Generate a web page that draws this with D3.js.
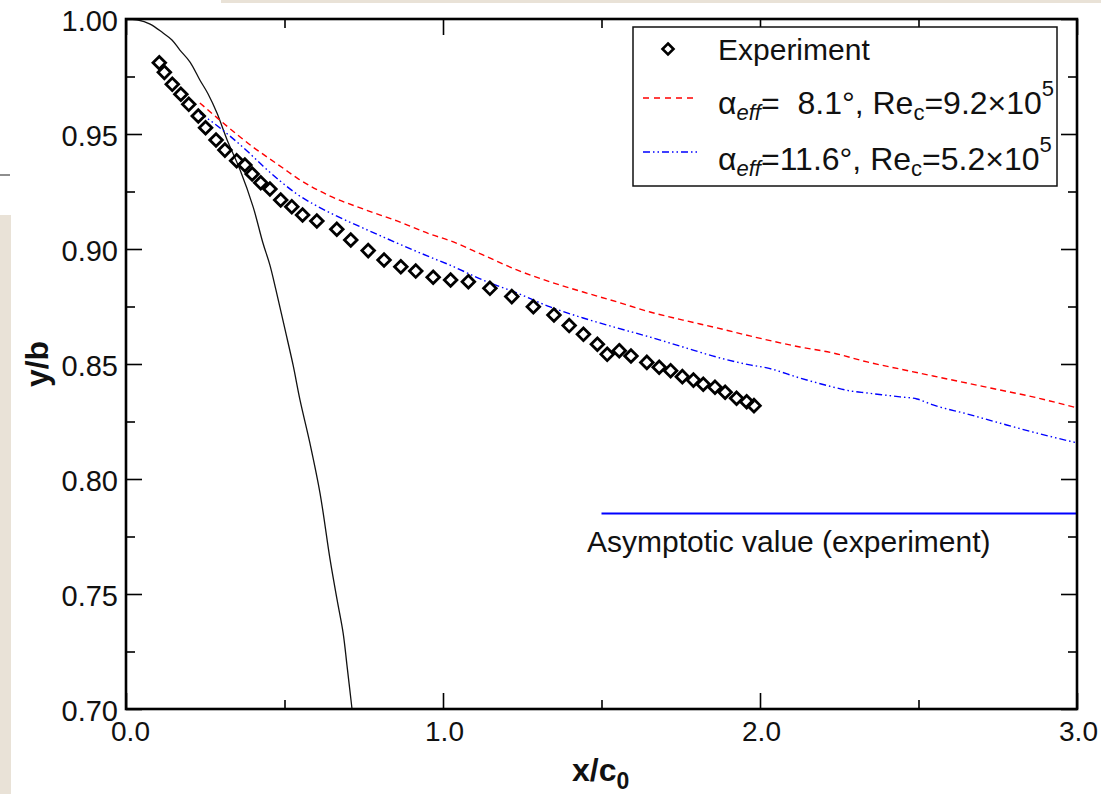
<!DOCTYPE html>
<html>
<head>
<meta charset="utf-8">
<script src="https://cdn.jsdelivr.net/npm/d3@7"></script>
<style>
  html, body { margin: 0; padding: 0; background: #fff; }
  svg { display: block; font-family: "Liberation Sans", Arial, Helvetica, sans-serif; }
  text { white-space: pre; }
</style>
</head>
<body>
<svg id="chart" width="1112" height="794"></svg>
<script>
// ---------------- data ----------------
const expX = [0.105,0.121,0.146,0.173,0.198,0.228,0.251,0.284,0.312,0.349,0.375,0.398,0.425,0.454,0.488,0.523,0.557,0.602,0.665,0.709,0.764,0.814,0.867,0.914,0.969,1.024,1.080,1.148,1.217,1.285,1.350,1.398,1.443,1.487,1.518,1.556,1.593,1.643,1.682,1.718,1.755,1.790,1.821,1.858,1.890,1.926,1.958,1.981];
const expY = [0.9810,0.9768,0.9716,0.9673,0.9629,0.9578,0.9527,0.9474,0.9430,0.9384,0.9365,0.9326,0.9288,0.9261,0.9213,0.9184,0.9148,0.9122,0.9086,0.9039,0.8993,0.8952,0.8923,0.8904,0.8877,0.8865,0.8858,0.8829,0.8793,0.8749,0.8713,0.8667,0.8629,0.8586,0.8542,0.8558,0.8535,0.8507,0.8486,0.8471,0.8445,0.8430,0.8412,0.8399,0.8377,0.8351,0.8336,0.8319];

const solidX = [0,0.035,0.076,0.117,0.145,0.170,0.202,0.233,0.259,0.287,0.319,0.360,0.401,0.432,0.454,0.473,0.502,0.527,0.549,0.580,0.612,0.644,0.666,0.685,0.697,0.713];
const solidY = [1.0000,0.9996,0.9978,0.9939,0.9909,0.9865,0.9813,0.9735,0.9674,0.9591,0.9474,0.9343,0.9183,0.9026,0.8930,0.8822,0.8648,0.8496,0.8343,0.8157,0.7939,0.7648,0.7474,0.7330,0.7191,0.7000];

const redX = [0.233,0.281,0.322,0.360,0.401,0.445,0.495,0.539,0.644,0.748,0.855,0.959,1.022,1.126,1.233,1.338,1.442,1.549,1.653,1.757,1.864,1.968,2.126,2.230,2.338,2.442,2.546,2.653,2.757,2.861,3.000];
const redY = [0.9635,0.9578,0.9530,0.9487,0.9443,0.9400,0.9352,0.9309,0.9230,0.9174,0.9122,0.9065,0.9036,0.8974,0.8909,0.8857,0.8813,0.8770,0.8726,0.8691,0.8657,0.8622,0.8574,0.8548,0.8509,0.8478,0.8448,0.8417,0.8387,0.8357,0.8309];

const blueX = [0.233,0.281,0.328,0.382,0.432,0.486,0.539,0.590,0.644,0.748,0.855,0.959,1.022,1.126,1.233,1.338,1.442,1.549,1.653,1.757,1.864,1.968,2.022,2.126,2.230,2.284,2.338,2.442,2.495,2.546,2.653,2.757,2.861,3.000];
const blueY = [0.9591,0.9543,0.9491,0.9426,0.9361,0.9296,0.9239,0.9196,0.9157,0.9091,0.9026,0.8965,0.8930,0.8865,0.8809,0.8748,0.8700,0.8657,0.8617,0.8574,0.8530,0.8496,0.8483,0.8439,0.8400,0.8383,0.8374,0.8357,0.8348,0.8322,0.8283,0.8243,0.8204,0.8157];

const asymX = [1.5, 3.0];
const asymY = [0.785, 0.785];

const xMajor = [0, 1, 2, 3];
const xMinor = [0.5, 1.5, 2.5];
const yMajor = [0.70, 0.75, 0.80, 0.85, 0.90, 0.95, 1.00];
const yMinor = [0.725, 0.775, 0.825, 0.875, 0.925, 0.975];

const legendLabels = ["Experiment", "8.1°", "11.6°"];

// ---------------- setup ----------------
const svg = d3.select("#chart");
const L = 126, R = 1077, T = 19, B = 709;
const x = d3.scaleLinear().domain([0, 3]).range([L, R]);
const y = d3.scaleLinear().domain([0.70, 1.00]).range([B, T]);

// slide background remnants
svg.append("rect").attr("x", 0).attr("y", 215).attr("width", 11).attr("height", 579).attr("fill", "#e9e2d7");
svg.append("rect").attr("x", 221).attr("y", 0).attr("width", 880).attr("height", 3).attr("fill", "#e9e2d7");
svg.append("line").attr("x1", 0).attr("x2", 10).attr("y1", 175).attr("y2", 175).attr("stroke", "#444").attr("stroke-width", 1.2);

function styleAxis(size) {
  return g => {
    g.select(".domain").remove();
    g.selectAll(".tick line").attr("stroke", "#000").attr("stroke-width", 1.6);
    g.selectAll("text").attr("font-size", size).attr("fill", "#111")
      .attr("font-family", "'Liberation Sans', Arial, Helvetica, sans-serif");
  };
}

svg.append("g").attr("transform", `translate(0,${B})`)
  .call(d3.axisBottom(x).tickValues(xMajor).tickSize(-16).tickPadding(12).tickFormat(d3.format(".1f")))
  .call(styleAxis(28))
  .call(g => g.selectAll("text").attr("dx", d => d === 0 ? 4 : 1));
svg.append("g").attr("transform", `translate(0,${B})`)
  .call(d3.axisBottom(x).tickValues(xMinor).tickSize(-9).tickFormat(""))
  .call(styleAxis(28));
svg.append("g").attr("transform", `translate(0,${T})`)
  .call(d3.axisTop(x).tickValues(xMajor).tickSize(-16).tickFormat(""))
  .call(styleAxis(28));
svg.append("g").attr("transform", `translate(0,${T})`)
  .call(d3.axisTop(x).tickValues(xMinor).tickSize(-9).tickFormat(""))
  .call(styleAxis(28));

svg.append("g").attr("transform", `translate(${L},0)`)
  .call(d3.axisLeft(y).tickValues(yMajor).tickSize(-16).tickPadding(8).tickFormat(d3.format(".2f")))
  .call(styleAxis(29))
  .call(g => g.selectAll("text").attr("dy", "0.4em"));
svg.append("g").attr("transform", `translate(${L},0)`)
  .call(d3.axisLeft(y).tickValues(yMinor).tickSize(-9).tickFormat(""))
  .call(styleAxis(29));
svg.append("g").attr("transform", `translate(${R},0)`)
  .call(d3.axisRight(y).tickValues(yMajor).tickSize(-16).tickFormat(""))
  .call(styleAxis(29));
svg.append("g").attr("transform", `translate(${R},0)`)
  .call(d3.axisRight(y).tickValues(yMinor).tickSize(-9).tickFormat(""))
  .call(styleAxis(29));

// axis titles
svg.append("text").attr("transform", `translate(48,${(T + B) / 2}) rotate(-90)`)
  .attr("text-anchor", "middle").attr("font-size", 32).attr("font-weight", "bold").attr("fill", "#111")
  .text("y/b");
const xt = svg.append("text").attr("x", 572).attr("y", 781)
  .attr("font-size", 32).attr("font-weight", "bold").attr("fill", "#111");
xt.append("tspan").text("x/c");
xt.append("tspan").attr("font-size", 23).attr("dy", 8).text("0");

// ---------------- series ----------------
const lineGen = (xs, ys, curve) => d3.line()
  .x((d, i) => x(xs[i])).y((d, i) => y(ys[i])).curve(curve)(xs);

svg.append("path").attr("d", lineGen(solidX, solidY, d3.curveCatmullRom))
  .attr("fill", "none").attr("stroke", "#111").attr("stroke-width", 1.3);

svg.append("path").attr("d", lineGen(redX, redY, d3.curveMonotoneX))
  .attr("fill", "none").attr("stroke", "#ff0000").attr("stroke-width", 1.4)
  .attr("stroke-dasharray", "6,4");

svg.append("path").attr("d", lineGen(blueX, blueY, d3.curveMonotoneX))
  .attr("fill", "none").attr("stroke", "#0000ff").attr("stroke-width", 1.4)
  .attr("stroke-dasharray", "7,3,1.5,3,1.5,3");

svg.append("path").attr("d", lineGen(asymX, asymY, d3.curveLinear))
  .attr("fill", "none").attr("stroke", "#0000ff").attr("stroke-width", 2);

svg.append("text").attr("x", 587).attr("y", 552).attr("font-size", 30).attr("fill", "#111")
  .text("Asymptotic value (experiment)");

const diamond = (cx, cy, r) => `M${cx},${cy - r}L${cx + r},${cy}L${cx},${cy + r}L${cx - r},${cy}Z`;
svg.append("g").selectAll("path").data(expX).join("path")
  .attr("d", (d, i) => diamond(x(expX[i]), y(expY[i]), 6.3))
  .attr("fill", "none").attr("stroke", "#000").attr("stroke-width", 2.8).attr("stroke-linejoin", "miter");

// frame
svg.append("rect").attr("x", L).attr("y", T).attr("width", R - L).attr("height", B - T)
  .attr("fill", "none").attr("stroke", "#000").attr("stroke-width", 2.6);

// ---------------- legend ----------------
const lg = svg.append("g");
lg.append("rect").attr("x", 633).attr("y", 27).attr("width", 424).attr("height", 159)
  .attr("fill", "#fff").attr("stroke", "#111").attr("stroke-width", 1.5);
lg.append("path").attr("d", diamond(668, 49, 5.5)).attr("fill", "none").attr("stroke", "#000").attr("stroke-width", 2.6);
lg.append("text").attr("x", 718).attr("y", 60).attr("font-size", 30).attr("fill", "#111").text(legendLabels[0]);

lg.append("line").attr("x1", 643).attr("x2", 698).attr("y1", 98).attr("y2", 98)
  .attr("stroke", "#ff0000").attr("stroke-width", 1.3).attr("stroke-dasharray", "6,5");
lg.append("line").attr("x1", 643).attr("x2", 698).attr("y1", 152).attr("y2", 152)
  .attr("stroke", "#0000ff").attr("stroke-width", 1.3).attr("stroke-dasharray", "7,3,1.5,3,1.5,3");

function legendRow(yb, angle, re) {
  const t = lg.append("text").attr("x", 718).attr("y", yb).attr("font-size", 32).attr("fill", "#111");
  t.append("tspan").text("α");
  t.append("tspan").attr("font-size", 22).attr("font-style", "italic").attr("dy", 6).text("eff");
  t.append("tspan").attr("dy", -6).text("=" + angle + ", Re");
  t.append("tspan").attr("font-size", 22).attr("dy", 6).text("c");
  t.append("tspan").attr("dy", -6).text("=" + re + "×10");
  t.append("tspan").attr("font-size", 22).attr("dy", -18).text("5");
}
legendRow(114, "  " + legendLabels[1], "9.2");
legendRow(170, legendLabels[2], "5.2");
</script>
</body>
</html>
